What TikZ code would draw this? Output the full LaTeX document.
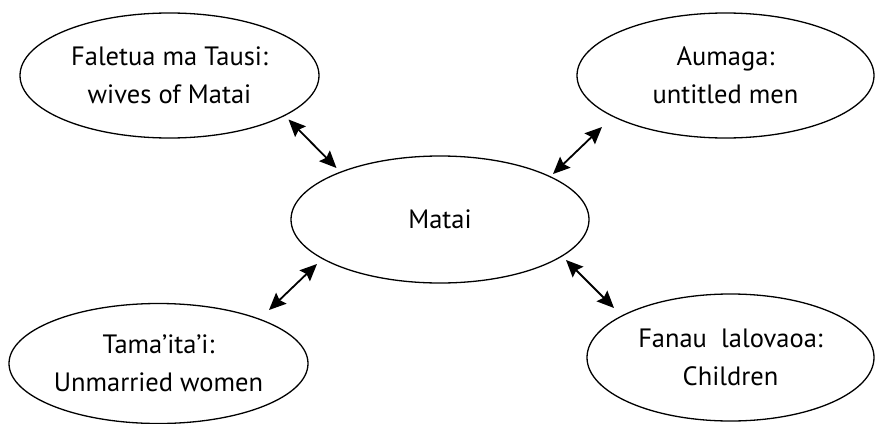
\documentclass[tikz,border=0pt]{standalone}
\usepackage{fontspec}
\setmainfont{PT Sans}
\usetikzlibrary{shapes.geometric,arrows.meta}
\begin{document}
\begin{tikzpicture}[x=1pt,y=-1pt,
  ell/.style={draw=black,line width=1.3pt,ellipse,inner sep=0pt,align=center,
    font=\fontsize{26.5}{38}\selectfont},
  biarrow/.style={line width=1.8pt,{Stealth[length=17pt,width=15pt,inset=2.5pt]}-{Stealth[length=17pt,width=15pt,inset=2.5pt]}}]
\useasboundingbox (0,0) rectangle (875,423);
\node[ell,minimum width=299pt,minimum height=125pt] (tl) at (169.5,75.5) {Faletua ma Tausi:\\wives of Matai};
\node[ell,minimum width=297pt,minimum height=125pt] (tr) at (725.5,75.5) {Aumaga:\\untitled men};
\node[ell,minimum width=298pt,minimum height=127pt] (c) at (440,219.5) {Matai};
\node[ell,minimum width=299pt,minimum height=120pt] (bl) at (158.5,363.5) {Tama’ita’i:\\Unmarried women};
\node[ell,minimum width=287pt,minimum height=127pt] (br) at (730.5,357.5) {Fanau\ \ lalovaoa:\\Children};
\coordinate (a1) at (288.5,119.5);
\coordinate (a2) at (336.5,168);
\coordinate (b1) at (602,127);
\coordinate (b2) at (553,174);
\coordinate (c1) at (317,264);
\coordinate (c2) at (269,310);
\coordinate (d1) at (566,260);
\coordinate (d2) at (614,308);
\draw[biarrow] (a1) -- (a2);
\draw[biarrow] (b1) -- (b2);
\draw[biarrow] (c1) -- (c2);
\draw[biarrow] (d1) -- (d2);
\end{tikzpicture}
\end{document}
